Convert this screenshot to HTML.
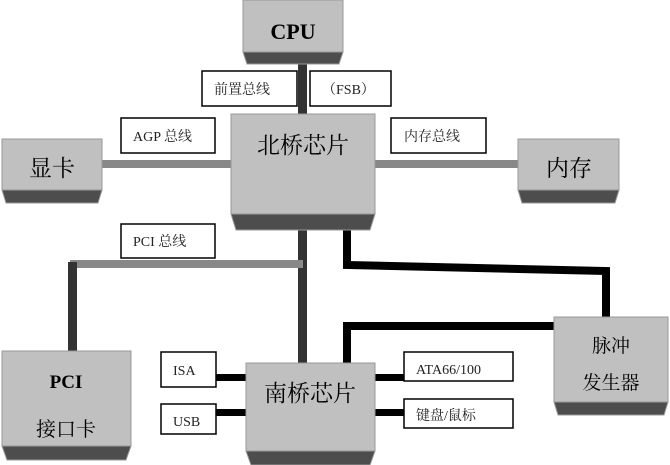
<!DOCTYPE html>
<html><head><meta charset="utf-8"><style>
html,body{margin:0;padding:0;background:#fff;}
svg{display:block;}
text{font-family:"Liberation Serif","Noto Serif CJK SC","Noto Sans CJK SC",serif;}
</style></head><body>
<svg width="670" height="465" viewBox="0 0 670 465" xmlns="http://www.w3.org/2000/svg">
<!-- connectors -->
<rect x="298" y="60" width="9" height="56" fill="#333"/>
<rect x="100" y="160" width="133" height="8" fill="#888"/>
<rect x="373" y="160" width="147" height="8" fill="#888"/>
<rect x="298" y="228" width="9" height="137" fill="#333"/>
<rect x="70" y="260" width="233" height="8" fill="#888"/>
<rect x="68" y="262" width="9" height="90" fill="#333"/>
<polyline points="347,214 347,265 606,271 606,318" fill="none" stroke="#000" stroke-width="8"/>
<polyline points="347,365 347,326 556,326" fill="none" stroke="#000" stroke-width="8"/>
<rect x="214" y="374" width="34" height="7" fill="#000"/>
<rect x="214" y="409" width="34" height="7" fill="#000"/>
<rect x="373" y="374" width="33" height="7" fill="#000"/>
<rect x="373" y="409" width="33" height="7" fill="#000"/>
<!-- boxes -->
<g stroke="#999" stroke-width="1">
<rect x="243" y="0" width="100" height="52" fill="#c0c0c0"/>
<polygon points="243,52 343,52 339,64 247,64" fill="#4d4d4d"/>
<rect x="231" y="114" width="144" height="100" fill="#c0c0c0"/>
<polygon points="231,214 375,214 370,230 236,230" fill="#4d4d4d"/>
<rect x="2" y="139" width="100" height="51" fill="#c0c0c0"/>
<polygon points="2,190 102,190 98,203 6,203" fill="#4d4d4d"/>
<rect x="518" y="139" width="101" height="51" fill="#c0c0c0"/>
<polygon points="518,190 619,190 615,203 522,203" fill="#4d4d4d"/>
<rect x="2" y="351" width="129" height="95" fill="#c0c0c0"/>
<polygon points="2,446 131,446 126,460 7,460" fill="#4d4d4d"/>
<rect x="246" y="363" width="129" height="88" fill="#c0c0c0"/>
<polygon points="246,451 375,451 370,465 251,465" fill="#4d4d4d"/>
<rect x="554" y="317" width="114" height="85" fill="#c0c0c0"/>
<polygon points="554,402 668,402 664,415 558,415" fill="#4d4d4d"/>
</g>
<!-- label boxes -->
<g fill="#fff" stroke="#000" stroke-width="1.5">
<rect x="202" y="71" width="95" height="35"/>
<rect x="310" y="71" width="81" height="35"/>
<rect x="121" y="118" width="94" height="35"/>
<rect x="391" y="118" width="95" height="35"/>
<rect x="121" y="224" width="94" height="34"/>
<rect x="161" y="352" width="55" height="35"/>
<rect x="161" y="404" width="55" height="30"/>
<rect x="404" y="352" width="109" height="29"/>
<rect x="404" y="399" width="109" height="29"/>
</g>
<!-- text -->
<g text-anchor="middle" fill="#000">
<text x="293" y="39" font-size="22" font-weight="bold">CPU</text>
<text x="303" y="153" font-size="23">北桥芯片</text>
<text x="52" y="176" font-size="23">显卡</text>
<text x="569" y="176" font-size="23">内存</text>
<text x="66" y="388" font-size="19" font-weight="bold">PCI</text>
<text x="66" y="436" font-size="20">接口卡</text>
<text x="310" y="401" font-size="23">南桥芯片</text>
<text x="611" y="352" font-size="19">脉冲</text>
<text x="611" y="389" font-size="19">发生器</text>
</g>
<g fill="#222" font-size="14">
<text x="214" y="94">前置总线</text>
<text x="322" y="94">（FSB）</text>
<text x="133" y="141">AGP 总线</text>
<text x="404" y="141">内存总线</text>
<text x="133" y="246">PCI 总线</text>
<text x="173" y="375">ISA</text>
<text x="173" y="426">USB</text>
<text x="416" y="374">ATA66/100</text>
<text x="416" y="420">键盘/鼠标</text>
</g>
</svg>
</body></html>
